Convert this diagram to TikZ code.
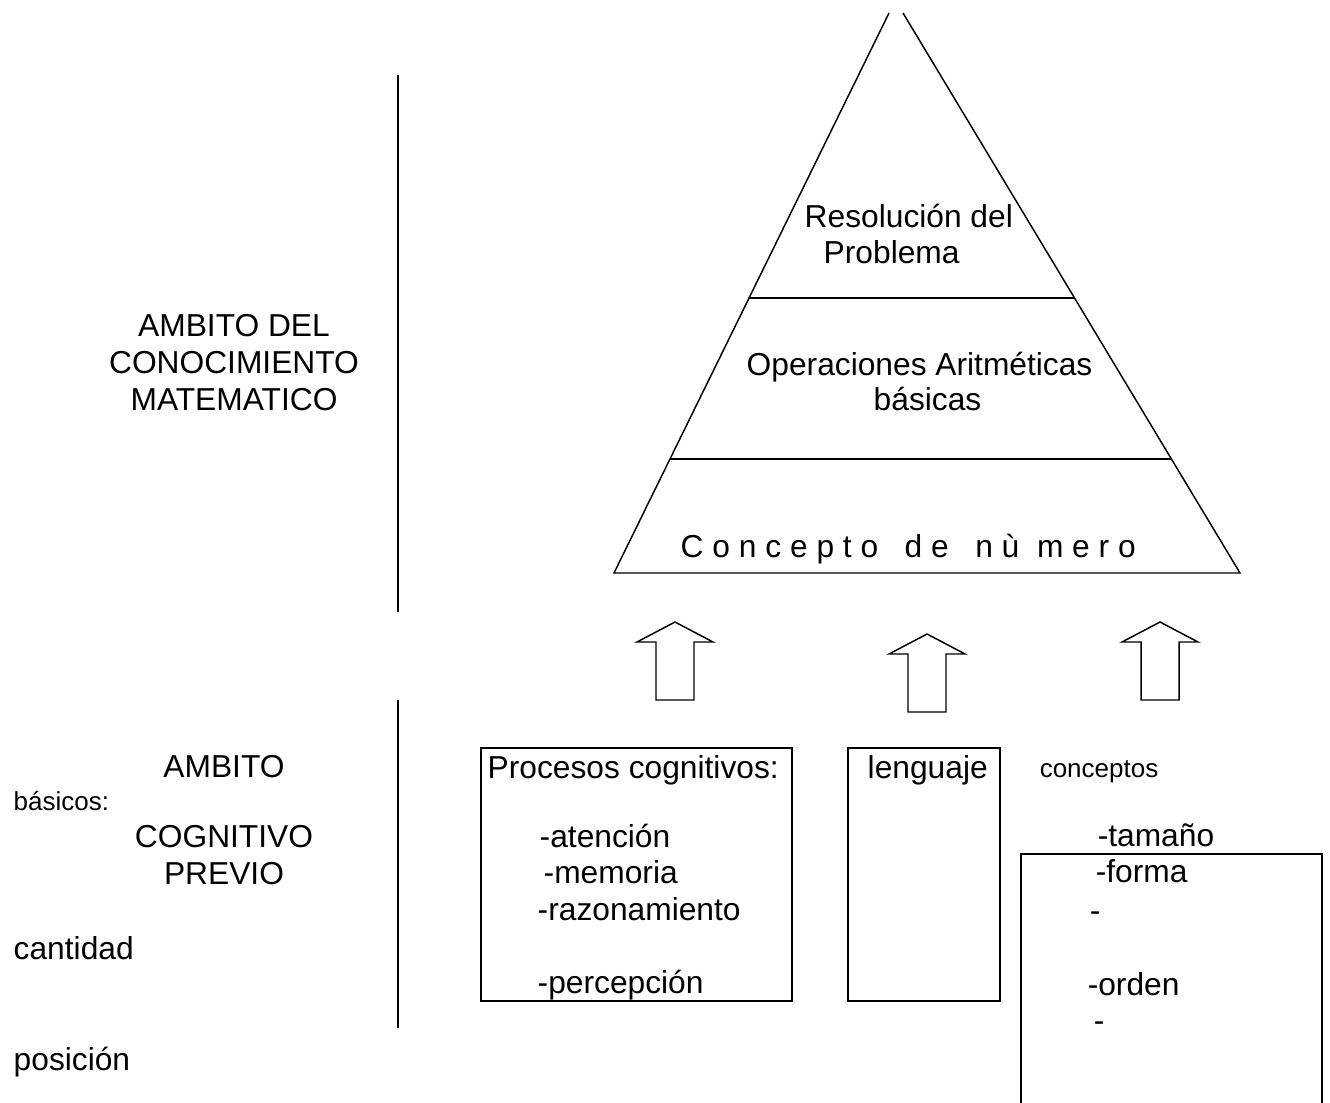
\documentclass[tikz,border=0pt]{standalone}
\usepackage{fontspec}
\setmainfont{Liberation Sans}
\usetikzlibrary{calc}

\begin{document}
\begin{tikzpicture}[x=0.75pt,y=-0.75pt,line width=1.1pt,
        txt/.style={inner sep=0pt,anchor=base west,font=\fontsize{23.8}{27.4}\selectfont},
        small/.style={txt,font=\fontsize{19.5}{24}\selectfont},
        block/.style={txt,anchor=base,align=center},
        frame/.style={draw,inner sep=0pt,minimum height=189.75pt}]
        \clip (0,0) rectangle (1330,1102);

        \coordinate (bl) at (614,573);
        \coordinate (br) at (1240,573);
        \coordinate (tl) at (889,13);
        \coordinate (tr) at (903,13);
        \draw (tl) -- (bl) -- (br) -- (tr);
        \draw ($(bl)!0.491!(tl)$) -- ($(br)!0.491!(tr)$);
        \draw ($(bl)!0.2036!(tl)$) -- ($(br)!0.2036!(tr)$);

        \node[txt] (reso) at (804,227) {Resolución del};
        \node[txt] (prob) at (823,263) {Problema};
        \node[txt] (oper) at (746,375) {Operaciones Aritméticas};
        \node[txt] (basc) at (873,410) {básicas};
        \node[txt] (numr) at (680,557)
            {C o n c e p t o\ \ \ d e\ \ \ n ù\ \ m e r o};

        \draw (398,75) -- (398,612);
        \draw (398,700) -- (398,1028);
        \node[block] (ambmat) at (234,410) {AMBITO DEL\\CONOCIMIENTO\\MATEMATICO};
        \node[txt,anchor=base] (amb) at (224,777) {AMBITO};
        \node[block] (cogn) at (224,884) {COGNITIVO\\PREVIO};
        \node[small] (basi) at (13,810) {básicos:};
        \node[txt] (cant) at (13,959) {cantidad};
        \node[txt] (posi) at (13,1070) {posición};

        \foreach \tx/\ty in {675/622,927/634,1160/622}
            \draw (\tx,\ty) -- ++(38,20) -- ++(-19,0) -- ++(0,58) -- ++(-38,0)
                -- ++(0,-58) -- ++(-19,0) -- cycle;

        \node[frame,minimum width=233.25pt] (procbox) at (636.5,874.5) {};
        \node[frame,minimum width=114pt] (lengbox) at (924,874.5) {};
        \node[frame,minimum width=225.75pt,minimum height=214.5pt] (concbox) at (1171.5,997) {};

        \node[txt] (proc) at (487,778) {Procesos cognitivos:};
        \node[txt] (aten) at (539,847) {-atención};
        \node[txt] (memo) at (543,883) {-memoria};
        \node[txt] (razo) at (537,920) {-razonamiento};
        \node[txt] (perc) at (537,993) {-percepción};
        \node[txt] (leng) at (867,778) {lenguaje};
        \node[small] (conc) at (1039,777) {conceptos};
        \node[txt] (tama) at (1097,846) {-tamaño};
        \node[txt] (form) at (1095,882) {-forma};
        \node[txt] (dsha) at (1089,921) {-};
        \node[txt] (orde) at (1087,995) {-orden};
        \node[txt] (dshb) at (1093,1031) {-};
    \end{tikzpicture}
\end{document}
